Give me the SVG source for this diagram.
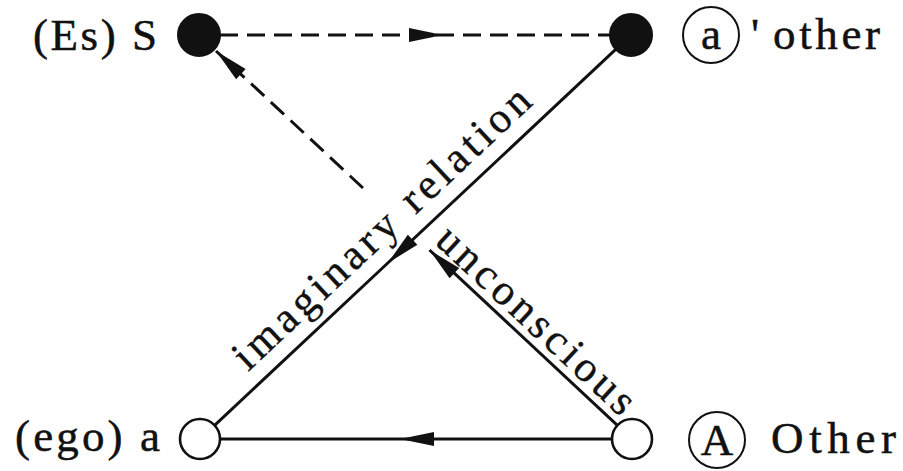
<svg xmlns="http://www.w3.org/2000/svg" width="903" height="471" viewBox="0 0 903 471">
<defs>
<style>
.lbl{font-family:"Liberation Serif","Times New Roman",serif;font-size:45px;fill:#111;stroke:#111;stroke-width:0.5}
.rot{font-family:"Liberation Serif","Times New Roman",serif;font-size:43px;fill:#111;stroke:#111;stroke-width:0.4;text-anchor:middle}
.edge{fill:none;stroke:#111;stroke-width:3}
.dash{stroke-dasharray:18 9}
.full{fill:#111;stroke:#111;stroke-width:2}
.open{fill:#fff;stroke:#111;stroke-width:2.6}
.ring{fill:none;stroke:#111;stroke-width:2}
</style>
<marker id="ah" viewBox="-36 -8 38 16" refX="0" refY="0" markerWidth="38" markerHeight="16" markerUnits="userSpaceOnUse" orient="auto">
<path d="M0,0 L-34,-7 L-34,7 Z" fill="#111"/>
</marker>
</defs>
<rect width="903" height="471" fill="#fff"/>
<g id="connectors">
<path class="edge dash" d="M220,35 L443,35 L610,35" marker-mid="url(#ah)"/>
<path class="edge" d="M615.7,49.4 L387.8,263 L214.6,425.3" marker-mid="url(#ah)"/>
<path class="edge" d="M612,439 L400,439 L220,439" marker-mid="url(#ah)"/>
<path class="edge" d="M617.4,425.4 L429.5,250" marker-end="url(#ah)"/>
<path class="edge dash" d="M363,188 L216,51" marker-end="url(#ah)"/>
<text class="rot" transform="translate(391,238) rotate(-43.15)" textLength="392" lengthAdjust="spacing">imaginary relation</text>
<text class="rot" transform="translate(527,330) rotate(43)" textLength="256" lengthAdjust="spacing">unconscious</text>
</g>
<g id="node-S">
<circle class="full" cx="199" cy="35" r="21"/>
<text class="lbl" x="33" y="50" textLength="124" lengthAdjust="spacing">(Es) S</text>
</g>
<g id="node-a-prime">
<circle class="full" cx="631" cy="35" r="21"/>
<circle class="ring" cx="711" cy="35" r="28"/>
<text class="lbl" x="711" y="49" text-anchor="middle">a</text>
<text class="lbl" x="751" y="49">'</text>
<text class="lbl" x="773" y="49" textLength="107" lengthAdjust="spacing">other</text>
</g>
<g id="node-a">
<circle class="open" cx="200" cy="439" r="20"/>
<text class="lbl" x="15" y="451" textLength="145" lengthAdjust="spacing">(ego) a</text>
</g>
<g id="node-A">
<circle class="open" cx="632" cy="439" r="20"/>
<circle class="ring" cx="717" cy="440" r="28"/>
<text class="lbl" x="717" y="455" text-anchor="middle">A</text>
<text class="lbl" x="771" y="453" textLength="125" lengthAdjust="spacing">Other</text>
</g>
</svg>
